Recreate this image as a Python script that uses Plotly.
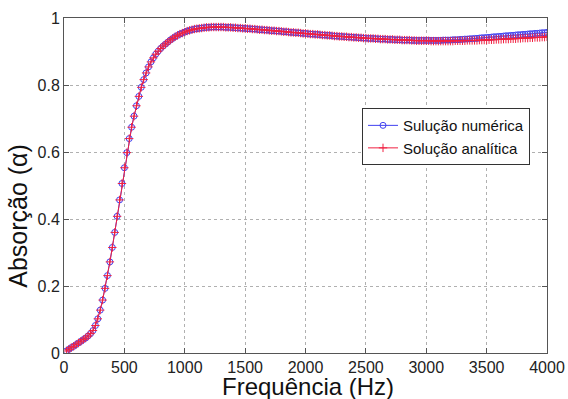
import plotly.graph_objects as go

freq_hz = list(range(20, 4001, 20))

# absorption shared by both solutions from 20 Hz to 2900 Hz (145 values)
common = [
    0.006, 0.011, 0.016, 0.020, 0.025, 0.030, 0.035, 0.040, 0.045, 0.051,
    0.058, 0.067, 0.082, 0.102, 0.128, 0.158, 0.193, 0.231, 0.272, 0.315,
    0.360, 0.408, 0.457, 0.506, 0.553, 0.598, 0.640, 0.674, 0.707, 0.738,
    0.766, 0.793, 0.816, 0.836, 0.854, 0.869, 0.881, 0.892, 0.901, 0.909,
    0.916, 0.922, 0.928, 0.934, 0.939, 0.944, 0.948, 0.952, 0.955, 0.958,
    0.961, 0.963, 0.965, 0.967, 0.968, 0.969, 0.970, 0.971, 0.972, 0.972,
    0.973, 0.973, 0.973, 0.973, 0.973, 0.973, 0.972, 0.972, 0.972, 0.971,
    0.971, 0.970, 0.970, 0.969, 0.969, 0.968, 0.968, 0.967, 0.967, 0.966,
    0.965, 0.965, 0.964, 0.964, 0.963, 0.962, 0.962, 0.961, 0.961, 0.960,
    0.959, 0.959, 0.958, 0.957, 0.957, 0.956, 0.956, 0.955, 0.954, 0.954,
    0.953, 0.952, 0.952, 0.951, 0.951, 0.950, 0.949, 0.949, 0.948, 0.948,
    0.947, 0.946, 0.946, 0.945, 0.945, 0.944, 0.944, 0.943, 0.943, 0.942,
    0.942, 0.941, 0.941, 0.940, 0.940, 0.939, 0.939, 0.939, 0.938, 0.938,
    0.937, 0.937, 0.937, 0.936, 0.936, 0.936, 0.935, 0.935, 0.935, 0.934,
    0.934, 0.934, 0.934, 0.933, 0.933,
]

# 2920 Hz .. 4000 Hz (55 values)
numerica_tail = [
    0.933, 0.933, 0.933, 0.933, 0.933, 0.933, 0.933, 0.933, 0.933, 0.933,
    0.933, 0.934, 0.934, 0.934, 0.934, 0.935, 0.935, 0.935, 0.936, 0.936,
    0.937, 0.937, 0.938, 0.938, 0.939, 0.939, 0.940, 0.941, 0.941, 0.942,
    0.942, 0.943, 0.944, 0.944, 0.945, 0.945, 0.946, 0.947, 0.947, 0.948,
    0.948, 0.949, 0.950, 0.950, 0.951, 0.951, 0.952, 0.953, 0.953, 0.954,
    0.954, 0.955, 0.956, 0.956, 0.957,
]
analitica_tail = [
    0.932, 0.932, 0.932, 0.932, 0.932, 0.932, 0.931, 0.931, 0.931, 0.931,
    0.931, 0.931, 0.931, 0.931, 0.931, 0.931, 0.932, 0.932, 0.932, 0.932,
    0.932, 0.933, 0.933, 0.933, 0.933, 0.933, 0.934, 0.934, 0.934, 0.934,
    0.935, 0.935, 0.935, 0.936, 0.936, 0.936, 0.937, 0.937, 0.937, 0.938,
    0.938, 0.938, 0.939, 0.939, 0.940, 0.940, 0.940, 0.941, 0.941, 0.942,
    0.942, 0.942, 0.943, 0.943, 0.944,
]

sol_numerica = common + numerica_tail
sol_analitica = common + analitica_tail

x_ticks = [0, 500, 1000, 1500, 2000, 2500, 3000, 3500, 4000]
y_ticks = [0, 0.2, 0.4, 0.6, 0.8, 1]
y_tick_text = ["0", "0.2", "0.4", "0.6", "0.8", "1"]

font_family = "Liberation Sans, Arial, sans-serif"

fig = go.Figure()
fig.add_trace(go.Scatter(
    x=freq_hz, y=sol_numerica, name="Sulução numérica",
    mode="lines+markers",
    line=dict(color="#4040f0", width=1),
    marker=dict(symbol="circle-open", size=6, color="#4040f0", line=dict(width=1)),
))
fig.add_trace(go.Scatter(
    x=freq_hz, y=sol_analitica, name="Solução analítica",
    mode="lines+markers",
    line=dict(color="#f02040", width=1),
    marker=dict(symbol="cross-thin-open", size=6, color="#f02040", line=dict(width=1, color="#f02040")),
))

axis_common = dict(
    showline=True, linecolor="#555555", linewidth=1, mirror="ticks",
    ticks="inside", ticklen=5, tickcolor="#555555",
    showgrid=True, gridcolor="#b0b0b0", griddash="dot", gridwidth=1,
    zeroline=False, automargin=False,
    tickfont=dict(family=font_family, size=16, color="#222222"),
)

fig.update_layout(
    width=568, height=399,
    paper_bgcolor="white", plot_bgcolor="white",
    margin=dict(l=64, r=21, t=18, b=46, autoexpand=False),
    font=dict(family=font_family, color="#111111"),
    xaxis=dict(range=[0, 4000], tickvals=x_ticks, **axis_common),
    yaxis=dict(range=[0, 1], tickvals=y_ticks, ticktext=y_tick_text, **axis_common),
    legend=dict(
        x=0.617, y=0.731, xanchor="left", yanchor="top",
        bgcolor="white", bordercolor="#333333", borderwidth=1,
        font=dict(family=font_family, size=15, color="#111111"),
        tracegroupgap=0, itemwidth=30,
    ),
    showlegend=True,
    annotations=[
        dict(text="Frequência (Hz)", xref="paper", yref="paper",
             x=0.505, y=-0.055, xanchor="center", yanchor="top", showarrow=False,
             font=dict(family=font_family, size=24, color="#111111")),
        dict(text="Absorção (α)", xref="paper", yref="paper", textangle=-90,
             x=-0.095, y=0.41, xanchor="center", yanchor="middle", showarrow=False,
             font=dict(family=font_family, size=25, color="#111111")),
    ],
)

fig.write_html(
    "out.html",
    config={"displayModeBar": False, "staticPlot": True},
    post_script="document.body.style.margin='0';document.body.style.overflow='hidden';",
)
